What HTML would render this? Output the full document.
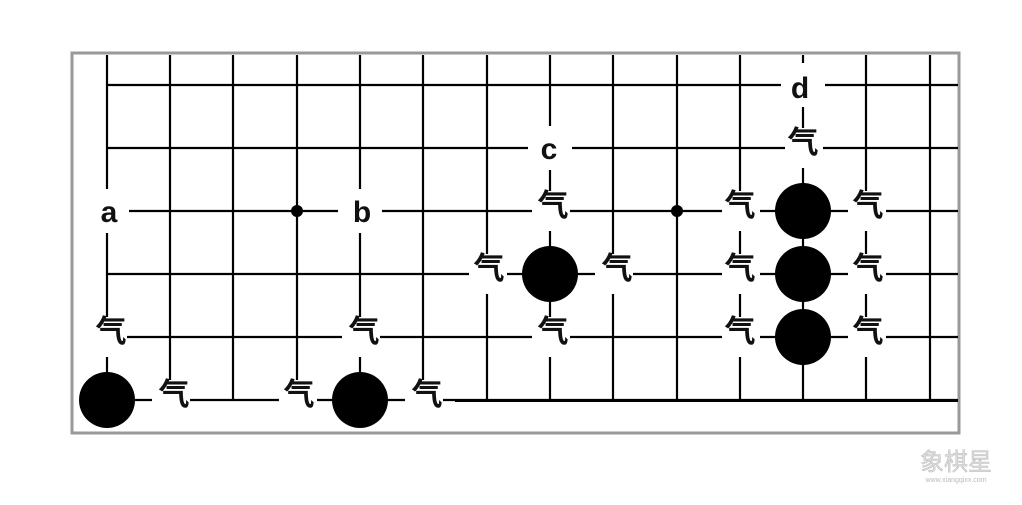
<!DOCTYPE html><html><head><meta charset="utf-8"><style>body{margin:0;background:#fff}</style></head><body>
<svg width="1022" height="500" xmlns="http://www.w3.org/2000/svg">
<rect x="0" y="0" width="1022" height="500" fill="#fff"/>
<rect x="72" y="53" width="887" height="380" fill="#fff" stroke="#999" stroke-width="3"/>
<g stroke="#000" stroke-width="2.2">
<line x1="107" y1="55" x2="107" y2="400"/><line x1="170" y1="55" x2="170" y2="400"/><line x1="233" y1="55" x2="233" y2="400"/><line x1="297" y1="55" x2="297" y2="400"/><line x1="360" y1="55" x2="360" y2="400"/><line x1="423" y1="55" x2="423" y2="400"/><line x1="487" y1="55" x2="487" y2="400"/><line x1="550" y1="55" x2="550" y2="400"/><line x1="613" y1="55" x2="613" y2="400"/><line x1="677" y1="55" x2="677" y2="400"/><line x1="740" y1="55" x2="740" y2="400"/><line x1="803" y1="55" x2="803" y2="400"/><line x1="866" y1="55" x2="866" y2="400"/><line x1="930" y1="55" x2="930" y2="400"/>
<line x1="107" y1="85" x2="958" y2="85"/><line x1="107" y1="148" x2="958" y2="148"/><line x1="107" y1="211" x2="958" y2="211"/><line x1="107" y1="274" x2="958" y2="274"/><line x1="107" y1="337" x2="958" y2="337"/><line x1="107" y1="400" x2="958" y2="400"/>
</g>
<line x1="455" y1="401" x2="958" y2="401" stroke="#000" stroke-width="2"/>
<g fill="#fff">
<rect x="85" y="189" width="44" height="44"/><rect x="338" y="189" width="44" height="44"/><rect x="528" y="126" width="44" height="44"/><rect x="781" y="63" width="44" height="44"/>
<rect x="89" y="317" width="38" height="40"/><rect x="152" y="380" width="38" height="40"/><rect x="279" y="380" width="38" height="40"/><rect x="342" y="317" width="38" height="40"/><rect x="405" y="380" width="38" height="40"/><rect x="469" y="254" width="38" height="40"/><rect x="595" y="254" width="38" height="40"/><rect x="532" y="191" width="38" height="40"/><rect x="532" y="317" width="38" height="40"/><rect x="722" y="191" width="38" height="40"/><rect x="722" y="254" width="38" height="40"/><rect x="722" y="317" width="38" height="40"/><rect x="848" y="191" width="38" height="40"/><rect x="848" y="254" width="38" height="40"/><rect x="848" y="317" width="38" height="40"/><rect x="785" y="128" width="38" height="40"/>
</g>
<g fill="#000">
<circle cx="297" cy="211" r="6"/><circle cx="677" cy="211" r="6"/>
<circle cx="107" cy="400" r="28"/><circle cx="360" cy="400" r="28"/><circle cx="550" cy="274" r="28"/><circle cx="803" cy="211" r="28"/><circle cx="803" cy="274" r="28"/><circle cx="803" cy="337" r="28"/>
</g>
<g font-family="Liberation Sans, sans-serif" font-weight="bold" font-size="30" text-anchor="middle" fill="#111">
<text x="109" y="222">a</text><text x="362" y="222">b</text><text x="549" y="159">c</text><text x="800" y="98">d</text>
</g>
<g font-family="'Noto Sans CJK SC', sans-serif" font-weight="bold" font-size="31" text-anchor="middle" fill="#111">
<text x="111" y="342">气</text><text x="174" y="405">气</text><text x="299" y="405">气</text><text x="364" y="342">气</text><text x="427" y="405">气</text><text x="489" y="279">气</text><text x="617" y="279">气</text><text x="553" y="216">气</text><text x="553" y="342">气</text><text x="740" y="216">气</text><text x="740" y="279">气</text><text x="740" y="342">气</text><text x="868" y="216">气</text><text x="868" y="279">气</text><text x="868" y="342">气</text><text x="803" y="153">气</text>
</g>
<text x="956" y="470" font-family="'Noto Sans CJK SC', sans-serif" font-size="24" text-anchor="middle" fill="#ddd" stroke="#bbb" stroke-width="0.5">象棋星</text>
<text x="956" y="482" font-family="Liberation Sans, sans-serif" font-size="7" text-anchor="middle" fill="#bbb">www.xiangqixx.com</text>
</svg>
</body></html>
